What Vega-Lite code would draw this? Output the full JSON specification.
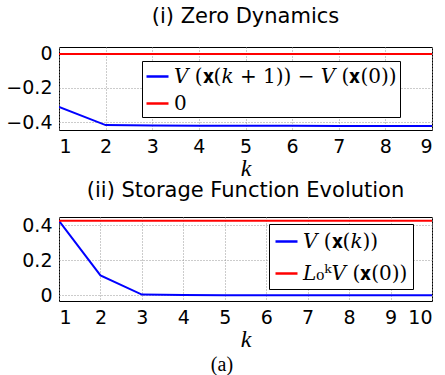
{
  "$schema": "https://vega.github.io/schema/vega-lite/v6.json",
  "padding": {"left": 5, "top": 5, "right": 3, "bottom": 2},
  "bounds": "flush",
  "spacing": 87,
  "title": {"text": "(a)", "orient": "bottom", "anchor": "middle", "font": "Liberation Serif", "fontSize": 20, "fontWeight": "normal", "color": "black", "dx": 3, "offset": 3},
  "config": {
    "font": "DejaVu Sans",
    "view": {"stroke": "black", "strokeWidth": 1},
    "axis": {
      "labelFont": "DejaVu Sans", "labelFontSize": 19, "labelColor": "black",
      "domain": false, "ticks": false,
      "grid": true, "gridColor": "#999", "gridDash": [1, 2], "gridOpacity": 1,
      "titleFont": "Liberation Serif", "titleFontStyle": "italic", "titleFontWeight": "normal", "titleFontSize": 24, "titleColor": "black"
    },
    "title": {"font": "DejaVu Sans", "fontSize": 21, "fontWeight": "normal", "color": "black", "offset": 18},
    "legend": {
      "orient": "none", "title": null, "fillColor": "white", "strokeColor": "black",
      "symbolType": "stroke", "symbolSize": 484, "symbolStrokeWidth": 2.5,
      "labelFont": "DejaVu Serif", "labelFontSize": 20, "labelColor": "black", "labelLimit": 400,
      "padding": 3, "rowPadding": 4, "cornerRadius": 0
    }
  },
  "datasets": {
    "zero": [
      {"k": 1, "v": -0.312, "series": "𝑉 (𝐱(𝑘 + 1)) − 𝑉 (𝐱(0))"},
      {"k": 2, "v": -0.418, "series": "𝑉 (𝐱(𝑘 + 1)) − 𝑉 (𝐱(0))"},
      {"k": 3, "v": -0.421, "series": "𝑉 (𝐱(𝑘 + 1)) − 𝑉 (𝐱(0))"},
      {"k": 4, "v": -0.422, "series": "𝑉 (𝐱(𝑘 + 1)) − 𝑉 (𝐱(0))"},
      {"k": 5, "v": -0.422, "series": "𝑉 (𝐱(𝑘 + 1)) − 𝑉 (𝐱(0))"},
      {"k": 6, "v": -0.422, "series": "𝑉 (𝐱(𝑘 + 1)) − 𝑉 (𝐱(0))"},
      {"k": 7, "v": -0.423, "series": "𝑉 (𝐱(𝑘 + 1)) − 𝑉 (𝐱(0))"},
      {"k": 8, "v": -0.423, "series": "𝑉 (𝐱(𝑘 + 1)) − 𝑉 (𝐱(0))"},
      {"k": 9, "v": -0.423, "series": "𝑉 (𝐱(𝑘 + 1)) − 𝑉 (𝐱(0))"},
      {"k": 1, "v": 0, "series": "0"},
      {"k": 2, "v": 0, "series": "0"},
      {"k": 3, "v": 0, "series": "0"},
      {"k": 4, "v": 0, "series": "0"},
      {"k": 5, "v": 0, "series": "0"},
      {"k": 6, "v": 0, "series": "0"},
      {"k": 7, "v": 0, "series": "0"},
      {"k": 8, "v": 0, "series": "0"},
      {"k": 9, "v": 0, "series": "0"}
    ],
    "storage": [
      {"k": 1, "v": 0.425, "series": "𝑉 (𝐱(𝑘))"},
      {"k": 2, "v": 0.113, "series": "𝑉 (𝐱(𝑘))"},
      {"k": 3, "v": 0.003, "series": "𝑉 (𝐱(𝑘))"},
      {"k": 4, "v": 0.0, "series": "𝑉 (𝐱(𝑘))"},
      {"k": 5, "v": -0.001, "series": "𝑉 (𝐱(𝑘))"},
      {"k": 6, "v": -0.001, "series": "𝑉 (𝐱(𝑘))"},
      {"k": 7, "v": -0.001, "series": "𝑉 (𝐱(𝑘))"},
      {"k": 8, "v": -0.001, "series": "𝑉 (𝐱(𝑘))"},
      {"k": 9, "v": -0.001, "series": "𝑉 (𝐱(𝑘))"},
      {"k": 10, "v": -0.001, "series": "𝑉 (𝐱(𝑘))"},
      {"k": 1, "v": 0.425, "series": "𝐿₀ᵏ𝑉 (𝐱(0))"},
      {"k": 2, "v": 0.425, "series": "𝐿₀ᵏ𝑉 (𝐱(0))"},
      {"k": 3, "v": 0.425, "series": "𝐿₀ᵏ𝑉 (𝐱(0))"},
      {"k": 4, "v": 0.425, "series": "𝐿₀ᵏ𝑉 (𝐱(0))"},
      {"k": 5, "v": 0.425, "series": "𝐿₀ᵏ𝑉 (𝐱(0))"},
      {"k": 6, "v": 0.425, "series": "𝐿₀ᵏ𝑉 (𝐱(0))"},
      {"k": 7, "v": 0.425, "series": "𝐿₀ᵏ𝑉 (𝐱(0))"},
      {"k": 8, "v": 0.425, "series": "𝐿₀ᵏ𝑉 (𝐱(0))"},
      {"k": 9, "v": 0.425, "series": "𝐿₀ᵏ𝑉 (𝐱(0))"},
      {"k": 10, "v": 0.425, "series": "𝐿₀ᵏ𝑉 (𝐱(0))"}
    ]
  },
  "resolve": {"scale": {"color": "independent", "x": "independent", "y": "independent"}},
  "vconcat": [
    {
      "title": "(i) Zero Dynamics",
      "width": 373,
      "height": 83,
      "data": {"name": "zero"},
      "mark": {"type": "line", "strokeWidth": 2, "clip": true},
      "encoding": {
        "x": {"field": "k", "type": "quantitative", "title": "k",
              "scale": {"domain": [1, 9], "nice": false, "zero": false},
              "axis": {"values": [1, 2, 3, 4, 5, 6, 7, 8, 9], "format": "d", "labelPadding": 7, "titlePadding": 0}},
        "y": {"field": "v", "type": "quantitative", "title": null,
              "scale": {"domain": [-0.447, 0.041], "nice": false, "zero": false},
              "axis": {"values": [-0.4, -0.2, 0], "format": ".1~f", "labelPadding": 7}},
        "color": {"field": "series", "type": "nominal",
                  "scale": {"domain": ["𝑉 (𝐱(𝑘 + 1)) − 𝑉 (𝐱(0))", "0"], "range": ["#0000ff", "#ff0000"]},
                  "legend": {"legendX": 83, "legendY": 14}}
      }
    },
    {
      "title": {"text": "(ii) Storage Function Evolution", "offset": 15},
      "width": 373,
      "height": 84,
      "data": {"name": "storage"},
      "mark": {"type": "line", "strokeWidth": 2, "clip": true},
      "encoding": {
        "x": {"field": "k", "type": "quantitative", "title": "k",
              "scale": {"domain": [1, 10], "nice": false, "zero": false},
              "axis": {"values": [1, 2, 3, 4, 5, 6, 7, 8, 9, 10], "format": "d", "labelPadding": 7, "titlePadding": 0}},
        "y": {"field": "v", "type": "quantitative", "title": null,
              "scale": {"domain": [-0.034, 0.447], "nice": false, "zero": false},
              "axis": {"values": [0, 0.2, 0.4], "format": ".1~f", "labelPadding": 7}},
        "color": {"field": "series", "type": "nominal",
                  "scale": {"domain": ["𝑉 (𝐱(𝑘))", "𝐿₀ᵏ𝑉 (𝐱(0))"], "range": ["#0000ff", "#ff0000"]},
                  "legend": {"legendX": 210, "legendY": 7, "rowPadding": 9, "padding": 5}}
      }
    }
  ]
}
